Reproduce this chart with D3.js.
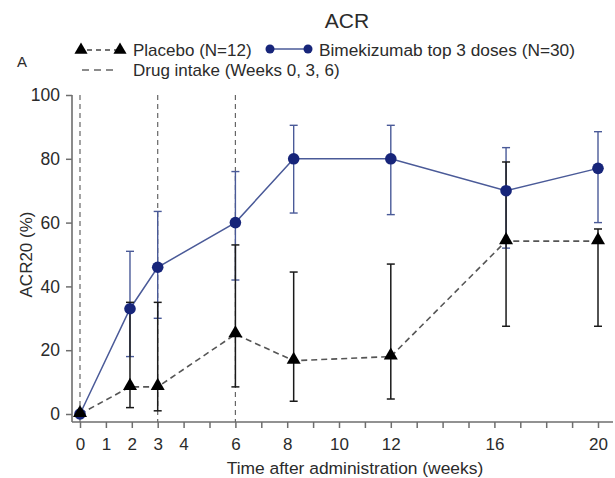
<!DOCTYPE html>
<html>
<head>
<meta charset="utf-8">
<script src="https://cdn.jsdelivr.net/npm/d3@7"></script>
<style>
  html, body { margin: 0; padding: 0; background: #fff; }
  svg { display: block; font-family: "Liberation Sans", Arial, Helvetica, sans-serif; }
</style>
</head>
<body>
<svg id="chart" width="615" height="478"></svg>
<script>
// Visit times (weeks) for each assessment
const weeks = [0, 1.93, 3, 6, 8.25, 12, 16.45, 20];

// Bimekizumab (top 3 doses, N=30): ACR20 response rate and 95% CI
const bimekValues = [0, 33, 46, 60, 80, 80, 70, 77];
const bimekLower  = [null, 18, 30, 42, 63, 62.5, 52, 60];
const bimekUpper  = [null, 51, 63.5, 76, 90.5, 90.5, 83.5, 88.5];

// Placebo (N=12): ACR20 response rate and 95% CI
const placeboValues = [0, 8.5, 8.5, 25, 16.7, 18, 54.2, 54.2];
const placeboLower  = [null, 2, 1, 8.5, 4, 4.7, 27.5, 27.5];
const placeboUpper  = [null, 35, 35, 53, 44.5, 47, 79, 58];

// Drug intake weeks
const dosingWeeks = [0, 3, 6];

// Axis ticks
const xTicks = d3.range(0, 21);
const xTickLabels = [0, 1, 2, 3, 4, 6, 8, 10, 12, 16, 20];
const yTicks = [0, 20, 40, 60, 80, 100];

const svg = d3.select("#chart");
const textColor = "#2b2b2b";
const axisColor = "#6e6e6e";
const navy = "#17257a";
const blueLine = "#4a5a98";

const x = d3.scaleLinear().domain([0, 20]).range([80, 598]);
const y = d3.scaleLinear().domain([0, 100]).range([414, 95]);

const axisX0 = 72, axisY0 = 422;

// Title
svg.append("text").attr("x", 347).attr("y", 28).attr("text-anchor", "middle")
  .attr("font-size", 21).attr("fill", textColor).text("ACR");

// Panel letter
svg.append("text").attr("x", 17).attr("y", 67)
  .attr("font-size", 15).attr("fill", textColor).text("A");

// Legend
const leg = svg.append("g");
const triPath = d3.symbol().type(d3.symbolTriangle);
leg.append("line").attr("x1", 81).attr("x2", 120).attr("y1", 50).attr("y2", 50)
  .attr("stroke", "#444").attr("stroke-width", 1.6).attr("stroke-dasharray", "5,4")
  .attr("stroke-dashoffset", -6);
[81, 120].forEach(cx => leg.append("path").attr("d", triPath.size(75)())
  .attr("transform", `translate(${cx},50)`).attr("fill", "#000"));
leg.append("text").attr("x", 133).attr("y", 56).attr("font-size", 17)
  .attr("fill", textColor).text("Placebo (N=12)");

leg.append("line").attr("x1", 270).attr("x2", 308).attr("y1", 49).attr("y2", 49)
  .attr("stroke", blueLine).attr("stroke-width", 1.3);
[270, 308].forEach(cx => leg.append("circle").attr("cx", cx).attr("cy", 49).attr("r", 4.5)
  .attr("fill", navy));
leg.append("text").attr("x", 319).attr("y", 56).attr("font-size", 17.3)
  .attr("fill", textColor).text("Bimekizumab top 3 doses (N=30)");

leg.append("line").attr("x1", 82).attr("x2", 118).attr("y1", 70).attr("y2", 70)
  .attr("stroke", "#666").attr("stroke-width", 1.3).attr("stroke-dasharray", "7,5");
leg.append("text").attr("x", 133).attr("y", 76).attr("font-size", 17)
  .attr("fill", textColor).text("Drug intake (Weeks 0, 3, 6)");

// Axes
const xAxis = d3.axisBottom(x).tickValues(xTicks).tickSize(6).tickSizeOuter(0)
  .tickFormat(d => xTickLabels.includes(d) ? d : "");
const gx = svg.append("g").attr("transform", `translate(0,${axisY0})`).call(xAxis);
gx.select(".domain").remove();
gx.selectAll(".tick line").attr("stroke", axisColor).attr("stroke-width", 1.5);
gx.selectAll(".tick text").attr("font-size", 17).attr("fill", textColor)
  .attr("font-family", "Liberation Sans, Arial, sans-serif").attr("y", 11).attr("dy", "1em");

const yAxis = d3.axisLeft(y).tickValues(yTicks).tickSize(6).tickSizeOuter(0);
const gy = svg.append("g").attr("transform", `translate(${axisX0},0)`).call(yAxis);
gy.select(".domain").remove();
gy.selectAll(".tick line").attr("stroke", axisColor).attr("stroke-width", 1.5);
gy.selectAll(".tick text").attr("font-size", 17.5).attr("fill", textColor)
  .attr("font-family", "Liberation Sans, Arial, sans-serif").attr("x", -12);

svg.append("line").attr("x1", axisX0).attr("x2", axisX0).attr("y1", y(100)).attr("y2", axisY0)
  .attr("stroke", axisColor).attr("stroke-width", 1.6);
svg.append("line").attr("x1", axisX0).attr("x2", 613).attr("y1", axisY0).attr("y2", axisY0)
  .attr("stroke", axisColor).attr("stroke-width", 1.6);

// Axis titles
svg.append("text").attr("x", 355).attr("y", 474).attr("text-anchor", "middle")
  .attr("font-size", 17.4).attr("fill", textColor).text("Time after administration (weeks)");
svg.append("text").attr("transform", `translate(32,${(y(0) + y(100)) / 2}) rotate(-90)`)
  .attr("text-anchor", "middle").attr("font-size", 17).attr("fill", textColor).text("ACR20 (%)");

// Drug intake markers
svg.selectAll(".dose").data(dosingWeeks).enter().append("line")
  .attr("x1", d => x(d)).attr("x2", d => x(d)).attr("y1", y(100)).attr("y2", axisY0)
  .attr("stroke", "#666").attr("stroke-width", 1.2).attr("stroke-dasharray", "5,4");

// Error bars
function errorBars(lower, upper, color, width) {
  const g = svg.append("g");
  weeks.forEach((w, i) => {
    if (lower[i] == null) return;
    const cx = x(w);
    g.append("line").attr("x1", cx).attr("x2", cx).attr("y1", y(lower[i])).attr("y2", y(upper[i]))
      .attr("stroke", color).attr("stroke-width", width);
    [lower[i], upper[i]].forEach(v => g.append("line")
      .attr("x1", cx - 4).attr("x2", cx + 4).attr("y1", y(v)).attr("y2", y(v))
      .attr("stroke", color).attr("stroke-width", width));
  });
}
errorBars(bimekLower, bimekUpper, blueLine, 1.4);

const line = d3.line().x((d, i) => x(weeks[i])).y(d => y(d));

svg.append("path").datum(bimekValues).attr("d", line).attr("fill", "none")
  .attr("stroke", blueLine).attr("stroke-width", 1.5);

errorBars(placeboLower, placeboUpper, "#1a1a1a", 1.5);

svg.append("path").datum(placeboValues).attr("d", line).attr("fill", "none")
  .attr("stroke", "#555").attr("stroke-width", 1.6).attr("stroke-dasharray", "6,4");

// Markers
svg.selectAll(".bimek").data(bimekValues).enter().append("circle")
  .attr("cx", (d, i) => x(weeks[i])).attr("cy", d => y(d)).attr("r", 5.8).attr("fill", navy);

svg.selectAll(".placebo").data(placeboValues).enter().append("path")
  .attr("d", d3.symbol().type(d3.symbolTriangle).size(85)())
  .attr("transform", (d, i) => `translate(${x(weeks[i])},${y(d) - 1})`).attr("fill", "#000");
</script>
</body>
</html>
